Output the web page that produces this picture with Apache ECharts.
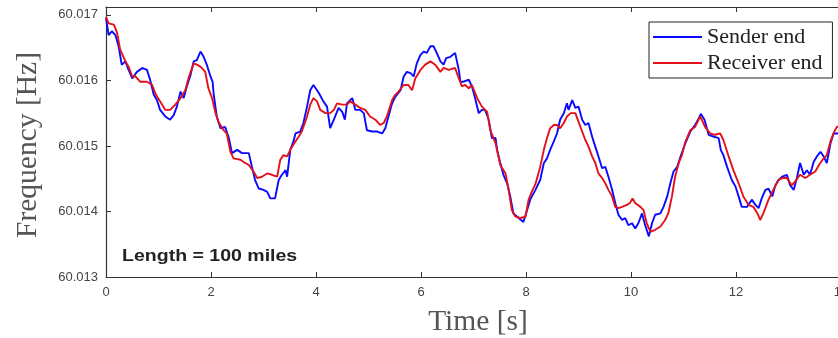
<!DOCTYPE html>
<html>
<head>
<meta charset="utf-8">
<script src="https://cdn.jsdelivr.net/npm/echarts@6/dist/echarts.min.js"></script>
<style>
html,body{margin:0;padding:0;background:#fff;}
#chart{width:838px;height:338px;}
</style>
</head>
<body>
<div id="chart"></div>
<script>
// ---- Data (time in s, frequency in Hz) ----
const senderT = [0.00,0.05,0.11,0.18,0.24,0.30,0.37,0.43,0.50,0.59,0.69,0.78,0.84,0.91,0.97,1.03,1.13,1.22,1.29,1.35,1.42,1.48,1.54,1.61,1.67,1.73,1.80,1.86,1.92,1.99,2.03,2.05,2.11,2.18,2.27,2.34,2.40,2.50,2.59,2.72,2.78,2.84,2.91,3.00,3.07,3.13,3.22,3.29,3.35,3.42,3.45,3.51,3.57,3.61,3.70,3.76,3.83,3.89,3.95,4.02,4.06,4.14,4.21,4.27,4.34,4.43,4.50,4.55,4.59,4.69,4.75,4.84,4.91,4.97,5.07,5.16,5.26,5.32,5.38,5.45,5.51,5.54,5.61,5.67,5.73,5.80,5.86,5.92,5.99,6.05,6.11,6.18,6.24,6.30,6.37,6.43,6.48,6.56,6.65,6.72,6.75,6.81,6.91,6.97,7.03,7.10,7.16,7.22,7.29,7.35,7.42,7.45,7.51,7.57,7.64,7.70,7.76,7.86,7.95,8.02,8.08,8.18,8.27,8.34,8.40,8.46,8.53,8.59,8.65,8.72,8.78,8.81,8.88,8.94,9.00,9.07,9.13,9.19,9.26,9.32,9.38,9.45,9.51,9.57,9.64,9.70,9.76,9.83,9.89,9.95,10.02,10.08,10.14,10.21,10.27,10.34,10.40,10.46,10.56,10.62,10.69,10.75,10.81,10.88,10.94,11.03,11.13,11.22,11.29,11.33,11.40,11.48,11.58,11.67,11.71,11.76,11.83,11.92,11.99,12.05,12.11,12.21,12.30,12.37,12.43,12.49,12.56,12.62,12.69,12.75,12.81,12.88,12.97,13.03,13.10,13.16,13.22,13.29,13.35,13.41,13.48,13.54,13.61,13.67,13.73,13.80,13.86,13.92,14.00];
const senderF = [60.01695,60.01669,60.01675,60.01669,60.01652,60.01624,60.01629,60.01616,60.01603,60.01613,60.01619,60.01616,60.01601,60.01578,60.01570,60.01555,60.01545,60.01540,60.01547,60.01560,60.01583,60.01573,60.01591,60.01608,60.01629,60.01631,60.01644,60.01636,60.01624,60.01606,60.01598,60.01580,60.01545,60.01527,60.01529,60.01512,60.01489,60.01494,60.01489,60.01489,60.01468,60.01448,60.01435,60.01433,60.01430,60.01420,60.01420,60.01448,60.01456,60.01463,60.01453,60.01494,60.01507,60.01519,60.01522,60.01535,60.01560,60.01585,60.01593,60.01585,60.01580,60.01568,60.01560,60.01527,60.01540,60.01558,60.01552,60.01540,60.01565,60.01573,60.01555,60.01555,60.01550,60.01524,60.01522,60.01522,60.01519,60.01527,60.01545,60.01565,60.01575,60.01578,60.01585,60.01606,60.01613,60.01611,60.01606,60.01626,60.01639,60.01644,60.01642,60.01652,60.01652,60.01642,60.01629,60.01624,60.01634,60.01636,60.01642,60.01616,60.01598,60.01598,60.01601,60.01591,60.01573,60.01550,60.01555,60.01555,60.01540,60.01512,60.01512,60.01494,60.01474,60.01456,60.01443,60.01423,60.01397,60.01390,60.01384,60.01402,60.01418,60.01433,60.01448,60.01474,60.01481,60.01494,60.01507,60.01519,60.01540,60.01550,60.01565,60.01555,60.01570,60.01558,60.01560,60.01540,60.01532,60.01535,60.01514,60.01499,60.01484,60.01466,60.01468,60.01453,60.01433,60.01413,60.01395,60.01387,60.01390,60.01379,60.01382,60.01374,60.01382,60.01397,60.01379,60.01362,60.01382,60.01395,60.01397,60.01407,60.01423,60.01443,60.01461,60.01468,60.01483,60.01503,60.01522,60.01532,60.01542,60.01549,60.01540,60.01517,60.01514,60.01512,60.01494,60.01486,60.01468,60.01448,60.01438,60.01423,60.01407,60.01407,60.01418,60.01410,60.01405,60.01420,60.01433,60.01435,60.01423,60.01440,60.01448,60.01453,60.01456,60.01440,60.01433,60.01451,60.01474,60.01456,60.01463,60.01456,60.01476,60.01484,60.01491,60.01484,60.01474,60.01504,60.01519,60.01519,60.01520];

const receiverT = [0.00,0.05,0.15,0.21,0.27,0.37,0.43,0.50,0.56,0.65,0.78,0.88,0.94,1.03,1.13,1.22,1.32,1.42,1.51,1.57,1.67,1.73,1.80,1.89,1.95,2.02,2.08,2.14,2.24,2.30,2.37,2.43,2.56,2.65,2.72,2.81,2.88,2.97,3.07,3.16,3.26,3.32,3.38,3.45,3.51,3.61,3.67,3.73,3.83,3.89,3.95,4.02,4.08,4.18,4.27,4.34,4.40,4.50,4.59,4.65,4.75,4.84,4.94,5.03,5.13,5.22,5.29,5.35,5.45,5.51,5.57,5.67,5.76,5.83,5.89,5.99,6.08,6.18,6.27,6.37,6.43,6.53,6.65,6.72,6.78,6.84,6.91,6.97,7.07,7.16,7.26,7.32,7.42,7.51,7.61,7.67,7.73,7.80,7.89,7.99,8.05,8.11,8.18,8.27,8.34,8.40,8.46,8.53,8.59,8.65,8.72,8.78,8.85,8.94,9.00,9.07,9.13,9.19,9.26,9.32,9.38,9.45,9.51,9.57,9.64,9.70,9.76,9.83,9.92,9.98,10.03,10.08,10.18,10.24,10.30,10.37,10.46,10.56,10.65,10.71,10.78,10.84,10.91,10.97,11.03,11.13,11.22,11.32,11.41,11.51,11.60,11.70,11.76,11.86,11.95,12.05,12.14,12.24,12.33,12.41,12.46,12.52,12.62,12.71,12.81,12.88,12.97,13.06,13.12,13.22,13.32,13.41,13.51,13.58,13.65,13.73,13.80,13.86,13.92,14.00];
const receiverF = [60.01697,60.01687,60.01685,60.01673,60.01647,60.01629,60.01621,60.01606,60.01606,60.01598,60.01598,60.01593,60.01580,60.01568,60.01555,60.01555,60.01563,60.01573,60.01585,60.01603,60.01626,60.01624,60.01621,60.01613,60.01588,60.01573,60.01552,60.01537,60.01524,60.01519,60.01491,60.01481,60.01479,60.01474,60.01471,60.01461,60.01451,60.01453,60.01458,60.01456,60.01453,60.01479,60.01486,60.01484,60.01494,60.01507,60.01514,60.01522,60.01545,60.01563,60.01573,60.01568,60.01555,60.01550,60.01550,60.01555,60.01565,60.01563,60.01563,60.01568,60.01563,60.01558,60.01555,60.01545,60.01540,60.01532,60.01535,60.01545,60.01570,60.01578,60.01583,60.01593,60.01593,60.01585,60.01603,60.01616,60.01624,60.01629,60.01624,60.01613,60.01619,60.01616,60.01619,60.01603,60.01591,60.01593,60.01588,60.01593,60.01573,60.01560,60.01552,60.01524,60.01504,60.01471,60.01458,60.01433,60.01402,60.01392,60.01390,60.01392,60.01418,60.01430,60.01442,60.01468,60.01494,60.01512,60.01527,60.01532,60.01532,60.01527,60.01535,60.01545,60.01550,60.01550,60.01537,60.01522,60.01509,60.01499,60.01484,60.01474,60.01458,60.01451,60.01443,60.01433,60.01423,60.01407,60.01405,60.01407,60.01410,60.01413,60.01420,60.01413,60.01407,60.01402,60.01382,60.01369,60.01372,60.01377,60.01387,60.01397,60.01423,60.01453,60.01474,60.01486,60.01505,60.01524,60.01529,60.01545,60.01529,60.01519,60.01517,60.01519,60.01509,60.01484,60.01463,60.01443,60.01423,60.01410,60.01407,60.01397,60.01387,60.01397,60.01418,60.01433,60.01448,60.01451,60.01451,60.01440,60.01445,60.01456,60.01451,60.01456,60.01461,60.01471,60.01479,60.01486,60.01507,60.01520,60.01529,60.01530];

const seriesNames = ['Sender end', 'Receiver end'];
const xTicks = [0, 2, 4, 6, 8, 10, 12, 14];
const yTicks = [60.013, 60.014, 60.015, 60.016, 60.017];
const annotation = 'Length = 100 miles';
const xName = 'Time [s]';
const yName = 'Frequency [Hz]';

const pair = (ts, fs) => ts.map((t, i) => [t, fs[i]]);

const axisColor = '#333';
const labelFont = 'Liberation Sans';
const serifFont = 'Liberation Serif';
const blue = '#0a0aff';
const red = '#e3121a';

const chart = echarts.init(document.getElementById('chart'), null, {renderer: 'canvas'});
chart.setOption({
  animation: false,
  backgroundColor: '#fff',
  grid: {left: 106, top: 7, right: -3, bottom: 61, containLabel: false, outerBoundsMode: 'none'},
  legend: {
    orient: 'vertical',
    left: 649, top: 22,
    padding: [4, 10, 4, 4],
    itemGap: 4,
    itemWidth: 49, itemHeight: 2,
    icon: 'rect',
    borderColor: '#222', borderWidth: 1,
    backgroundColor: '#fff',
    textStyle: {fontFamily: serifFont, fontSize: 22, color: '#222'},
    data: seriesNames
  },
  xAxis: [{
    type: 'value', min: 0, max: 14, interval: 2,
    axisLine: {show: true, lineStyle: {color: axisColor, width: 1.2}},
    axisTick: {show: true, inside: true, length: 5, lineStyle: {color: axisColor}},
    axisLabel: {show: true, color: '#444', fontFamily: labelFont, fontSize: 13, margin: 9,
      formatter: v => xTicks.includes(Math.round(v)) ? String(Math.round(v)) : ''},
    splitLine: {show: false}
  }, {
    type: 'value', min: 0, max: 14, interval: 2, position: 'top',
    axisLine: {show: true, lineStyle: {color: axisColor, width: 1.2}},
    axisTick: {show: true, inside: true, length: 5, lineStyle: {color: axisColor}},
    axisLabel: {show: false},
    splitLine: {show: false}
  }],
  yAxis: {
    type: 'value', min: 60.013, max: 60.01712, interval: 0.001,
    axisLine: {show: true, lineStyle: {color: axisColor, width: 1.2}},
    axisTick: {show: true, inside: true, length: 5, lineStyle: {color: axisColor}},
    axisLabel: {show: true, color: '#444', fontFamily: labelFont, fontSize: 13, margin: 8, showMaxLabel: false,
      formatter: v => {
        const m = yTicks.find(t => Math.abs(t - v) < 1e-7);
        return m !== undefined ? m.toFixed(3) : '';
      }},
    splitLine: {show: false}
  },
  graphic: [
    {type: 'text', x: 122, y: 257, scaleX: 1.22,
      style: {text: annotation, fontFamily: labelFont, fontWeight: 'bold', fontSize: 16,
        fill: '#222', textAlign: 'left', textVerticalAlign: 'middle'}},
    {type: 'text', x: 478, y: 322,
      style: {text: xName, fontFamily: serifFont, fontSize: 29.5, fill: '#555',
        textAlign: 'center', textVerticalAlign: 'middle'}},
    {type: 'text', x: 28, y: 145, rotation: Math.PI / 2,
      style: {text: yName, fontFamily: serifFont, fontSize: 29.5, fill: '#555',
        textAlign: 'center', textVerticalAlign: 'middle'}}
  ],
  series: [
    {name: seriesNames[0], type: 'line', data: pair(senderT, senderF), showSymbol: false,
      symbol: 'none', lineStyle: {color: blue, width: 1.9}, itemStyle: {color: blue}, z: 2},
    {name: seriesNames[1], type: 'line', data: pair(receiverT, receiverF), showSymbol: false,
      symbol: 'none', lineStyle: {color: red, width: 1.9}, itemStyle: {color: red}, z: 3}
  ]
});
</script>
</body>
</html>
